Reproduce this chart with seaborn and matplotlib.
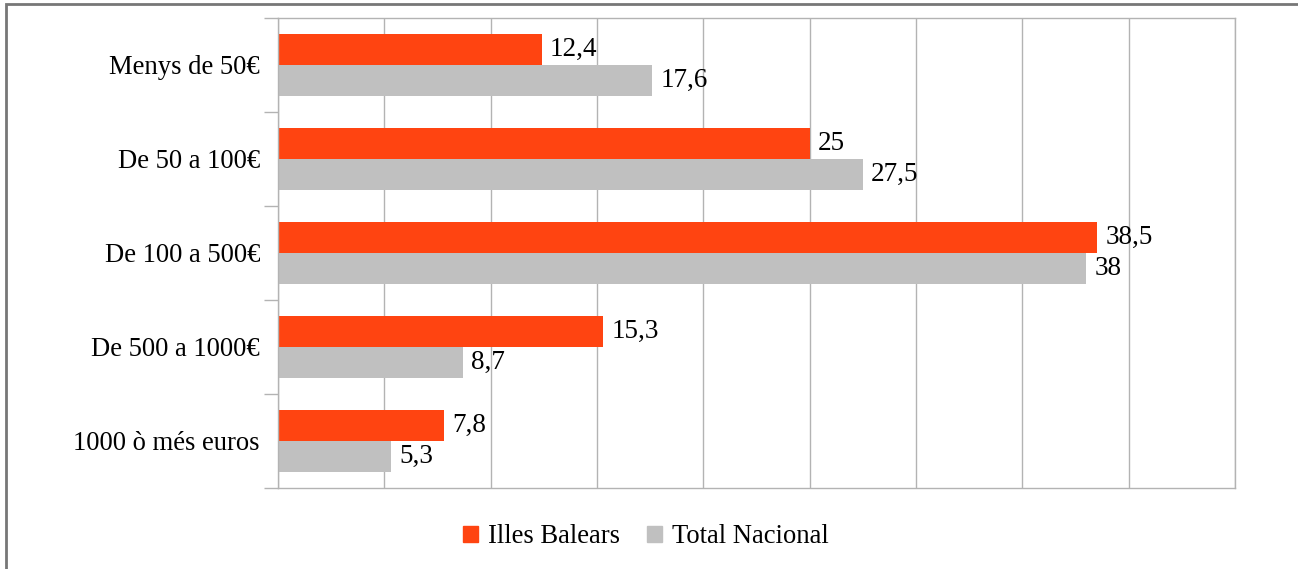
import seaborn as sns
import matplotlib.pyplot as plt
import pandas as pd
from matplotlib.patches import Rectangle

categories = ['Menys de 50€', 'De 50 a 100€', 'De 100 a 500€', 'De 500 a 1000€', '1000 ò més euros']
balears = [12.4, 25, 38.5, 15.3, 7.8]
nacional = [17.6, 27.5, 38, 8.7, 5.3]
series = ['Illes Balears', 'Total Nacional']
colors = ['#FF4411', '#C0C0C0']

df = pd.DataFrame({
    'cat': categories * 2,
    'serie': [series[0]] * 5 + [series[1]] * 5,
    'valor': balears + nacional,
})

sns.set_style('white')
plt.rcParams['font.family'] = ['Liberation Serif', 'DejaVu Serif']
plt.rcParams['text.color'] = 'black'
plt.rcParams['ytick.color'] = 'black'

fig = plt.figure(figsize=(12.98, 5.69), dpi=100)
ax = fig.add_axes([0.2142, 0.1424, 0.7373, 0.826])

sns.barplot(data=df, y='cat', x='valor', hue='serie', order=categories,
            hue_order=series, palette=colors, width=0.66, orient='h',
            saturation=1, linewidth=0, ax=ax, legend=False)

ax.set_xlim(0, 45)
ax.set_xticks(range(0, 46, 5))
ax.set_xticklabels([])
ax.grid(axis='x', color='#B3B3B3', linewidth=1)
ax.set_axisbelow(True)
ax.set_xlabel('')
ax.set_ylabel('')

# category boundaries as tick marks on the left
ax.set_yticks([i - 0.5 for i in range(6)], minor=True)
ax.tick_params(axis='y', which='minor', length=10, color='#B3B3B3', width=1, left=True)
ax.tick_params(axis='y', which='major', length=0, labelsize=19.2, pad=13,
               labelcolor='black')
ax.tick_params(axis='x', length=0)

for s in ax.spines.values():
    s.set_color('#B3B3B3')
    s.set_linewidth(1)

# data labels
for cont in ax.containers:
    ax.bar_label(cont, labels=[f'{v:g}'.replace('.', ',') for v in cont.datavalues],
                 padding=6, fontsize=19.5, color='black')

# legend
handles = [Rectangle((0, 0), 1, 1, color=c) for c in colors]
fig.legend(handles, series, loc='center', bbox_to_anchor=(0.4977, 0.057), ncol=2,
           frameon=False, fontsize=19.2, handlelength=0.55, handleheight=0.55,
           handletextpad=0.4, columnspacing=1.0)

# outer border
fig.patches.append(Rectangle((6 / 1298, -0.01), 1.02, 1 - 4 / 569 + 0.01,
                             transform=fig.transFigure, fill=False,
                             edgecolor='#777777', linewidth=2))

fig.savefig('out.png', dpi=100)
